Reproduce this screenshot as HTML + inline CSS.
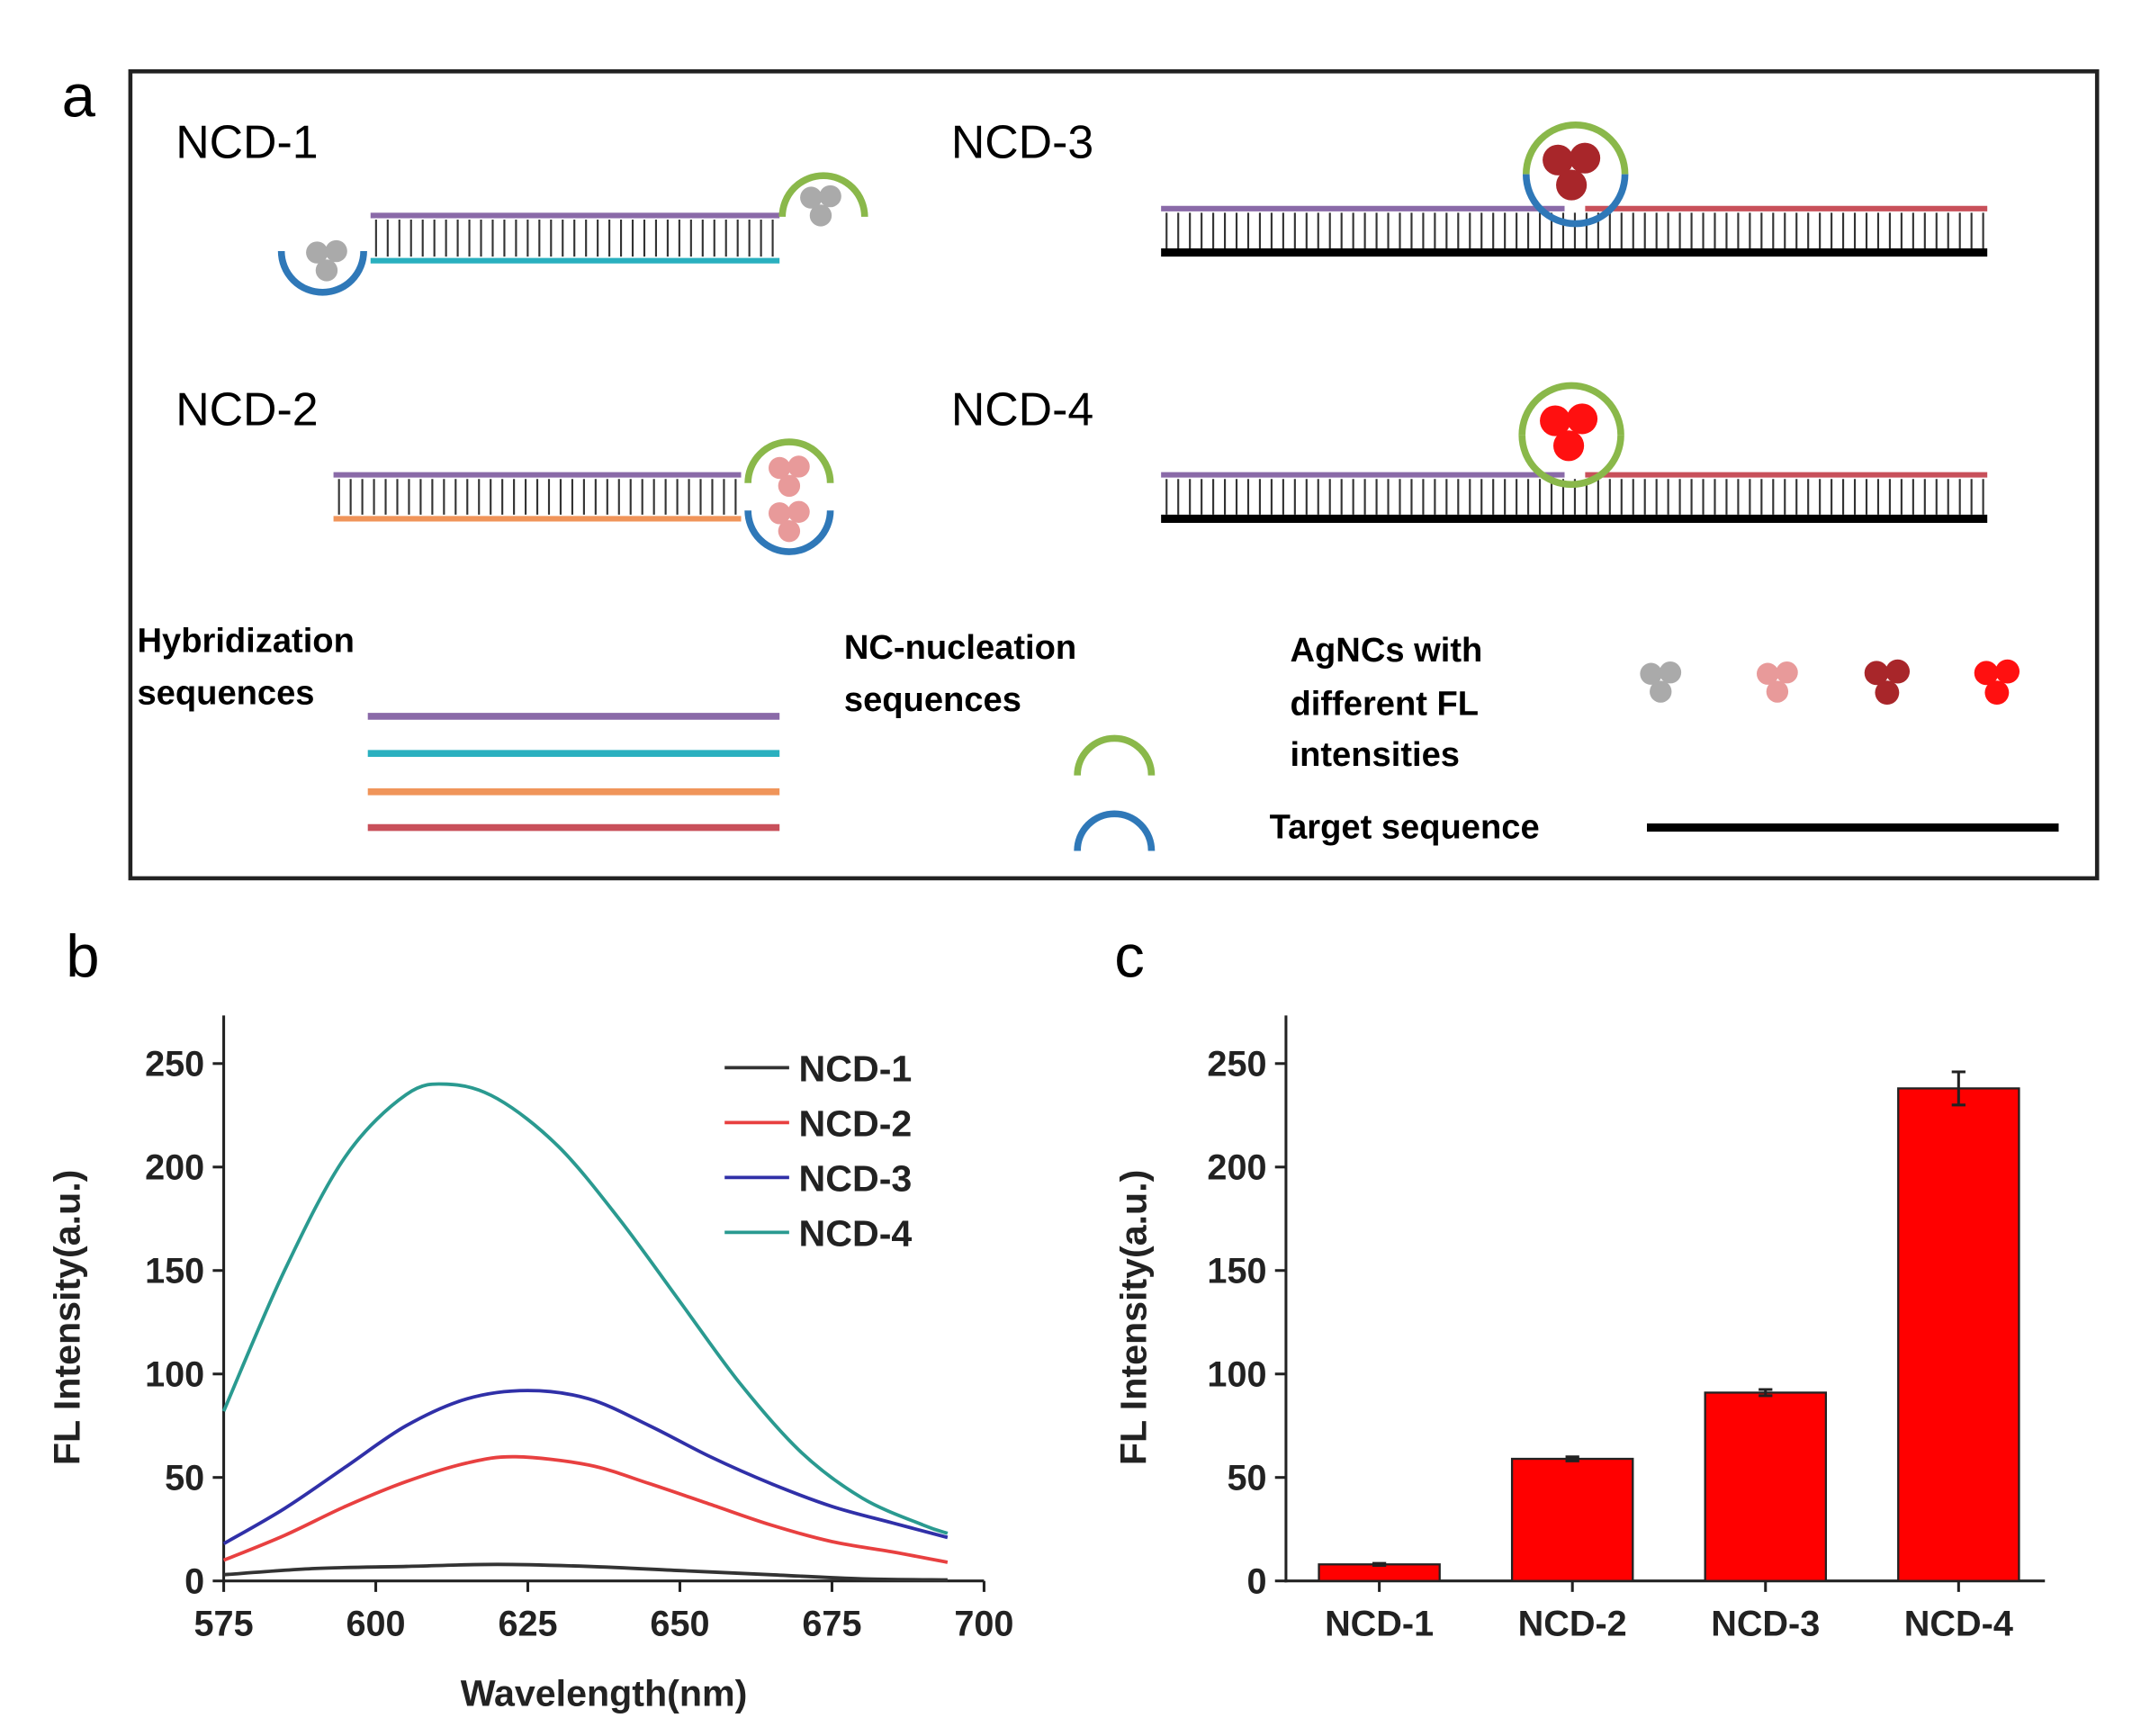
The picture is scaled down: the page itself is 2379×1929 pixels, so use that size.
<!DOCTYPE html>
<html><head><meta charset="utf-8"><style>
html,body{margin:0;padding:0;background:#fff}
svg{display:block}
text{font-family:"Liberation Sans",sans-serif}
.b{font-weight:bold}
</style></head><body>
<svg id="fig" width="2379" height="1929" viewBox="0 0 1560 1265" preserveAspectRatio="none">
<!-- Panel a -->
<g>
<text x="45" y="85" font-size="44">a</text>
<rect x="95" y="52" width="1433" height="588" fill="none" stroke="#222" stroke-width="3"/>
<text x="128" y="115" font-size="34">NCD-1</text>
<text x="693" y="115" font-size="34">NCD-3</text>
<text x="128" y="310" font-size="34">NCD-2</text>
<text x="693" y="310" font-size="34">NCD-4</text>
<g id="diag"></g>
<text x="100" y="475" font-size="25" class="b">Hybridization</text>
<text x="100" y="513" font-size="25" class="b">sequences</text>
<line x1="268" y1="522" x2="568" y2="522" stroke="#8a6aa8" stroke-width="5"/>
<line x1="268" y1="549" x2="568" y2="549" stroke="#2ab0bf" stroke-width="5"/>
<line x1="268" y1="577" x2="568" y2="577" stroke="#f0955a" stroke-width="5"/>
<line x1="268" y1="603" x2="568" y2="603" stroke="#c8505a" stroke-width="5"/>
<text x="615" y="480" font-size="25" class="b">NC-nucleation</text>
<text x="615" y="518" font-size="25" class="b">sequences</text>
<path d="M785,565 A27,27 0 0 1 839,565" fill="none" stroke="#8ab84a" stroke-width="5"/>
<path d="M785,620 A27,27 0 0 1 839,620" fill="none" stroke="#2f78b8" stroke-width="5"/>
<text x="940" y="482" font-size="25" class="b">AgNCs with</text>
<text x="940" y="521" font-size="25" class="b">different FL</text>
<text x="940" y="558" font-size="25" class="b">intensities</text>
<text x="925" y="611" font-size="25" class="b">Target sequence</text>
<line x1="1200" y1="603" x2="1500" y2="603" stroke="#000" stroke-width="6"/>
</g>
<!-- Panel b -->
<g id="pb">
<text x="48" y="712" font-size="44">b</text>
</g>
<g id="pc">
<text x="812" y="712" font-size="44">c</text>
</g>
</svg>
<script>
const NS="http://www.w3.org/2000/svg";
function mk(p,tag,attrs,txt){const e=document.createElementNS(NS,tag);for(const k in attrs)e.setAttribute(k,attrs[k]);if(txt!==undefined)e.textContent=txt;p.appendChild(e);return e;}

// ---------- schematic ----------
const dg=document.getElementById('diag');
function duplex(x1,x2,yt,yb,topSegs,bot){
  topSegs.forEach(s=>{const l=mk(dg,'line',{x1:s[0],y1:yt,x2:s[1],y2:yt,stroke:s[2],'stroke-width':4});
  
  });
  const b=mk(dg,'line',{x1:x1,y1:yb,x2:x2,y2:yb,stroke:bot,'stroke-width':bot==='#000'?6:4});
  
  
  let d='';for(let x=x1+4;x<x2;x+=8.5)d+=`M${x},${yt+3}V${yb-3}`;
  const t=mk(dg,'path',{d:d,stroke:'#333','stroke-width':1.4});
  
  
}
function arc(cx,cy,r,col,dir){ // dir: 'up' opening down (cap), 'down' cup
  const d=dir==='up'?`M${cx-r},${cy} A${r},${r} 0 0 1 ${cx+r},${cy}`:`M${cx-r},${cy} A${r},${r} 0 0 0 ${cx+r},${cy}`;
  const a=mk(dg,'path',{d:d,fill:'none',stroke:col,'stroke-width':5});
  
  
}
function cluster(cx,cy,col,s){
  const g=mk(dg,'g',{});
  
  
  [[-7,-6],[7,-7],[0,7]].forEach(o=>mk(g,'circle',{cx:cx+o[0]*s,cy:cy+o[1]*s,r:8*s,fill:col}));
}
duplex(270,568,157,190,[[270,568,'#8a6aa8']],'#2ab0bf');
arc(600,158,30,'#8ab84a','up');cluster(598,150,'#aaa',1);
arc(235,183,30,'#2f78b8','down');cluster(238,190,'#aaa',1);
duplex(243,540,346,378,[[243,540,'#8a6aa8']],'#f0955a');
arc(575,352,30,'#8ab84a','up');cluster(575,347,'#e89a9a',1);
arc(575,372,30,'#2f78b8','down');cluster(575,380,'#e89a9a',1);
duplex(846,1448,152,184,[[846,1140,'#8a6aa8'],[1155,1448,'#c8505a']],'#000');
arc(1148,127,36,'#8ab84a','up');arc(1148,127,36,'#2f78b8','down');cluster(1145,125,'#a8262a',1.4);
duplex(846,1448,346,378,[[846,1140,'#8a6aa8'],[1155,1448,'#c8505a']],'#000');
arc(1145,317,36,'#8ab84a','up');arc(1145,317,36,'#8ab84a','down');cluster(1143,315,'#ff1010',1.4);
cluster(1210,497,'#aaa',1);cluster(1295,497,'#e89a9a',1);cluster(1375,497,'#a8262a',1.1);cluster(1455,497,'#ff1010',1.1);

// ---------- chart b data ----------
const wl1=[575,590,605,620,635,650,665,680,694];
const ncd1=[3,6,7,8,7,5,3,1,0.5];
const wl2=[575,585,595,605,615,623,635,645,655,665,675,685,694];
const ncd2=[10,22,36,48,57,60,56,47,37,27,19,14,9];
const wl3=[575,585,595,605,615,625,635,645,655,665,675,685,694];
const ncd3=[18,35,55,75,88,92,88,75,60,47,36,28,21];
const wl4=[575,585,595,605,612,620,630,640,650,660,670,680,690,694];
const ncd4=[82,150,205,235,240,233,210,175,135,95,62,40,27,23];
const seriesNames=['NCD-1','NCD-2','NCD-3','NCD-4'];
const seriesColors=['#333','#e84040','#3030a8','#2a9a90'];
const yTicks=[0,50,100,150,200,250];
const xTicks=[575,600,625,650,675,700];

const pb=document.getElementById('pb');
const bx=v=>163+(v-575)*(717-163)/125;
const by=v=>1152-v*(377/250);
function axesY(g,x0,title,tx){
  const a=mk(g,'line',{x1:x0,y1:740,x2:x0,y2:1153,stroke:'#222','stroke-width':2});
  
  
  yTicks.forEach(t=>{
    const tk=mk(g,'line',{x1:x0-8,y1:by(t),x2:x0,y2:by(t),stroke:'#222','stroke-width':2});
    
    
    const lb=mk(g,'text',{x:x0-14,y:by(t)+9,'font-size':26,'font-weight':'bold','text-anchor':'end',fill:'#222'},String(t));
    
    
  });
  const yt=mk(g,'text',{x:tx,y:960,'font-size':27,'font-weight':'bold','text-anchor':'middle',fill:'#222',transform:`rotate(-90 ${tx} 960)`},title);
  
  
}
axesY(pb,163,'FL Intensity(a.u.)',58);
const xa=mk(pb,'line',{x1:162,y1:1152,x2:717,y2:1152,stroke:'#222','stroke-width':2});


xTicks.forEach(t=>{
  const tk=mk(pb,'line',{x1:bx(t),y1:1152,x2:bx(t),y2:1160,stroke:'#222','stroke-width':2});
  
  
  const lb=mk(pb,'text',{x:bx(t),y:1192,'font-size':26,'font-weight':'bold','text-anchor':'middle',fill:'#222'},String(t));
  
  
});
const xt=mk(pb,'text',{x:440,y:1243,'font-size':27,'font-weight':'bold','text-anchor':'middle',fill:'#222'},'Wavelength(nm)');


function smooth(xs,ys){
  const p=xs.map((x,i)=>[bx(x),by(ys[i])]);
  let d=`M${p[0][0]},${p[0][1]}`;
  for(let i=0;i<p.length-1;i++){
    const p0=p[i-1]||p[i],p1=p[i],p2=p[i+1],p3=p[i+2]||p2;
    d+=`C${p1[0]+(p2[0]-p0[0])/6},${p1[1]+(p2[1]-p0[1])/6} ${p2[0]-(p3[0]-p1[0])/6},${p2[1]-(p3[1]-p1[1])/6} ${p2[0]},${p2[1]}`;
  }
  return d;
}
[[wl1,ncd1],[wl2,ncd2],[wl3,ncd3],[wl4,ncd4]].forEach((s,i)=>{
  const l=mk(pb,'path',{d:smooth(s[0],s[1]),fill:'none',stroke:seriesColors[i],'stroke-width':2.5});
  
  
  const y=778+i*40;
  const ll=mk(pb,'line',{x1:528,y1:y,x2:575,y2:y,stroke:seriesColors[i],'stroke-width':2.5});
  
  
  const lt=mk(pb,'text',{x:582,y:y+10,'font-size':27,'font-weight':'bold',fill:'#222'},seriesNames[i]);
  
  
});

// ---------- chart c data ----------
const barCats=['NCD-1','NCD-2','NCD-3','NCD-4'];
const barVals=[8,59,91,238];
const barErr=[0.5,1,1.5,8];
const pc=document.getElementById('pc');
const cx0=937,cx1=1490;
const cx=i=>1005+i*140.7;
axesY(pc,cx0,'FL Intensity(a.u.)',835);
const cxa=mk(pc,'line',{x1:cx0-1,y1:1152,x2:cx1,y2:1152,stroke:'#222','stroke-width':2});


barCats.forEach((c,i)=>{
  const b=mk(pc,'rect',{x:cx(i)-44,y:by(barVals[i]),width:88,height:1152-by(barVals[i]),fill:'#ff0000',stroke:'#222','stroke-width':1.5});
  
  
  const e=mk(pc,'path',{d:`M${cx(i)},${by(barVals[i]+barErr[i])}V${by(barVals[i]-barErr[i])}M${cx(i)-5},${by(barVals[i]+barErr[i])}h10M${cx(i)-5},${by(barVals[i]-barErr[i])}h10`,stroke:'#222','stroke-width':2});
  
  
  const tk=mk(pc,'line',{x1:cx(i),y1:1152,x2:cx(i),y2:1160,stroke:'#222','stroke-width':2});
  
  
  const lb=mk(pc,'text',{x:cx(i),y:1192,'font-size':26,'font-weight':'bold','text-anchor':'middle',fill:'#222'},c);
  
  
});
</script>
</body></html>
